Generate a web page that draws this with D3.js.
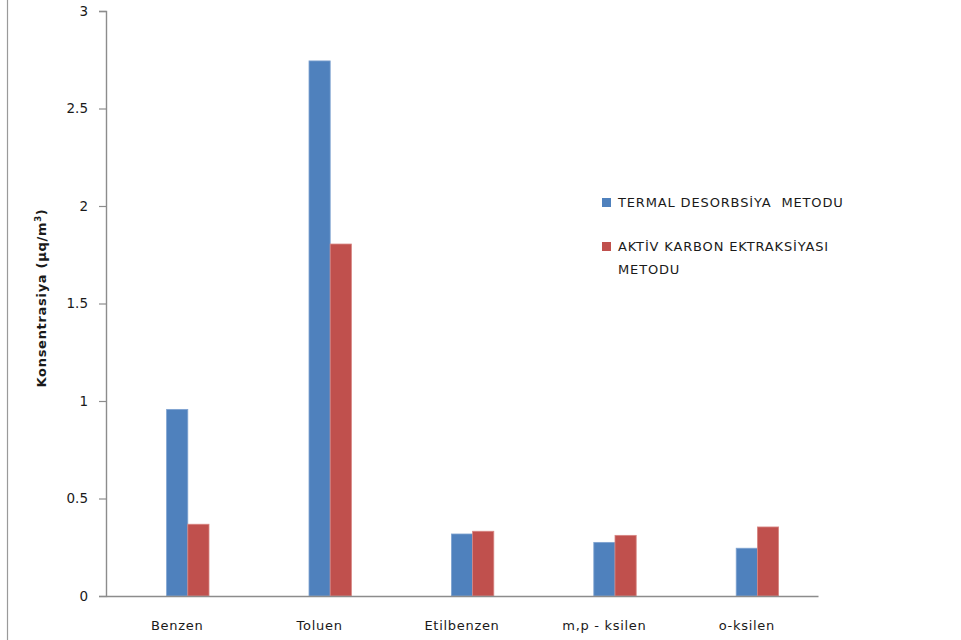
<!DOCTYPE html>
<html>
<head>
<meta charset="utf-8">
<script src="https://cdn.jsdelivr.net/npm/d3@7"></script>
<style>
  body { margin: 0; background: #fff; }
  svg { display: block; }
  text { font-family: "DejaVu Sans", Verdana, sans-serif; fill: #1a1a1a; }
</style>
</head>
<body>
<svg id="chart" width="961" height="640"></svg>
<script>
// Compounds measured
const categories = ["Benzen", "Toluen", "Etilbenzen", "m,p - ksilen", "o-ksilen"];
// Series names (legend)
const seriesNames = ["TERMAL DESORBSİYA  METODU", "AKTİV KARBON EKTRAKSİYASI METODU"];
// Concentrations, µq/m³
const termalValues = [0.957, 2.744, 0.318, 0.275, 0.245];
const aktivValues  = [0.368, 1.805, 0.332, 0.311, 0.354];
// Y axis ticks
const yTicks = [0, 0.5, 1, 1.5, 2, 2.5, 3];
const colors = ["#4F81BD", "#C0504D"];
const strokes = ["#7FA3D1", "#D88683"];

const svg = d3.select("#chart");
const margin = { left: 106, right: 143, top: 11, bottom: 44 };
const W = 961, H = 640;

// Frame line on the left edge
svg.append("line")
  .attr("x1", 7.5).attr("x2", 7.5).attr("y1", 0).attr("y2", H)
  .attr("stroke", "#9a9a9a").attr("stroke-width", 1.2);

const x0 = d3.scaleBand().domain(categories)
  .range([margin.left, W - margin.right]).padding(0);
// Three slots per category; the two series occupy the 2nd and 3rd slot
const groupW = 63.6;
const x1 = d3.scaleBand().domain([0, 1, 2])
  .range([x0.bandwidth() / 2 - groupW / 2, x0.bandwidth() / 2 + groupW / 2]);
const y = d3.scaleLinear().domain([0, 3]).range([H - margin.bottom, margin.top]);

const rows = categories.map((c, i) => ({ cat: c, vals: [termalValues[i], aktivValues[i]] }));

// Bars
const g = svg.append("g");
rows.forEach(r => {
  r.vals.forEach((v, s) => {
    g.append("rect")
      .attr("x", x0(r.cat) + x1(s + 1))
      .attr("y", y(v))
      .attr("width", x1.bandwidth())
      .attr("height", y(0) - y(v))
      .attr("fill", colors[s])
      .attr("stroke", strokes[s])
      .attr("stroke-width", 0.8);
  });
});

// Y axis
const yAxis = svg.append("g")
  .attr("transform", `translate(${margin.left},0)`)
  .call(d3.axisLeft(y).tickValues(yTicks).tickSize(7).tickPadding(11)
    .tickFormat(d3.format("~g")));
yAxis.select(".domain").attr("stroke", "#8c8c8c").attr("stroke-width", 1.4);
yAxis.selectAll(".tick line").attr("stroke", "#8c8c8c").attr("stroke-width", 1.2);
yAxis.selectAll(".tick text").style("font-size", "13.5px").attr("fill", "#1a1a1a");

// X axis line (no ticks)
const xAxis = svg.append("g")
  .attr("transform", `translate(0,${y(0)})`)
  .call(d3.axisBottom(x0).tickSize(0).tickPadding(25));
xAxis.select(".domain").attr("stroke", "#8c8c8c").attr("stroke-width", 1.6);
xAxis.selectAll(".tick text").style("font-size", "13px")
  .style("letter-spacing", "0.7px").attr("fill", "#1a1a1a");

// Y axis title
const yt = svg.append("text")
  .attr("transform", "translate(46,298) rotate(-90)")
  .attr("text-anchor", "middle")
  .style("font-size", "13px").style("font-weight", "bold")
  .style("letter-spacing", "0.7px");
yt.append("tspan").text("Konsentrasiya  (µq/m");
yt.append("tspan").attr("baseline-shift", "super").style("font-size", "8.5px").text("3");
yt.append("tspan").text(")");

// Legend
const legend = svg.append("g").attr("transform", "translate(602,198)");
const legendRows = [[seriesNames[0]], ["AKTİV KARBON EKTRAKSİYASI", "METODU"]];
const legendY = [0, 44];
legendRows.forEach((lines, i) => {
  const lg = legend.append("g").attr("transform", `translate(0,${legendY[i]})`);
  lg.append("rect").attr("width", 9).attr("height", 9).attr("fill", colors[i]);
  lines.forEach((t, j) => {
    lg.append("text").attr("x", 16).attr("y", 4.5 + j * 23).attr("dy", "0.35em")
      .style("font-size", "13px").style("letter-spacing", "0.85px")
      .style("white-space", "pre").text(t);
  });
});
</script>
</body>
</html>
